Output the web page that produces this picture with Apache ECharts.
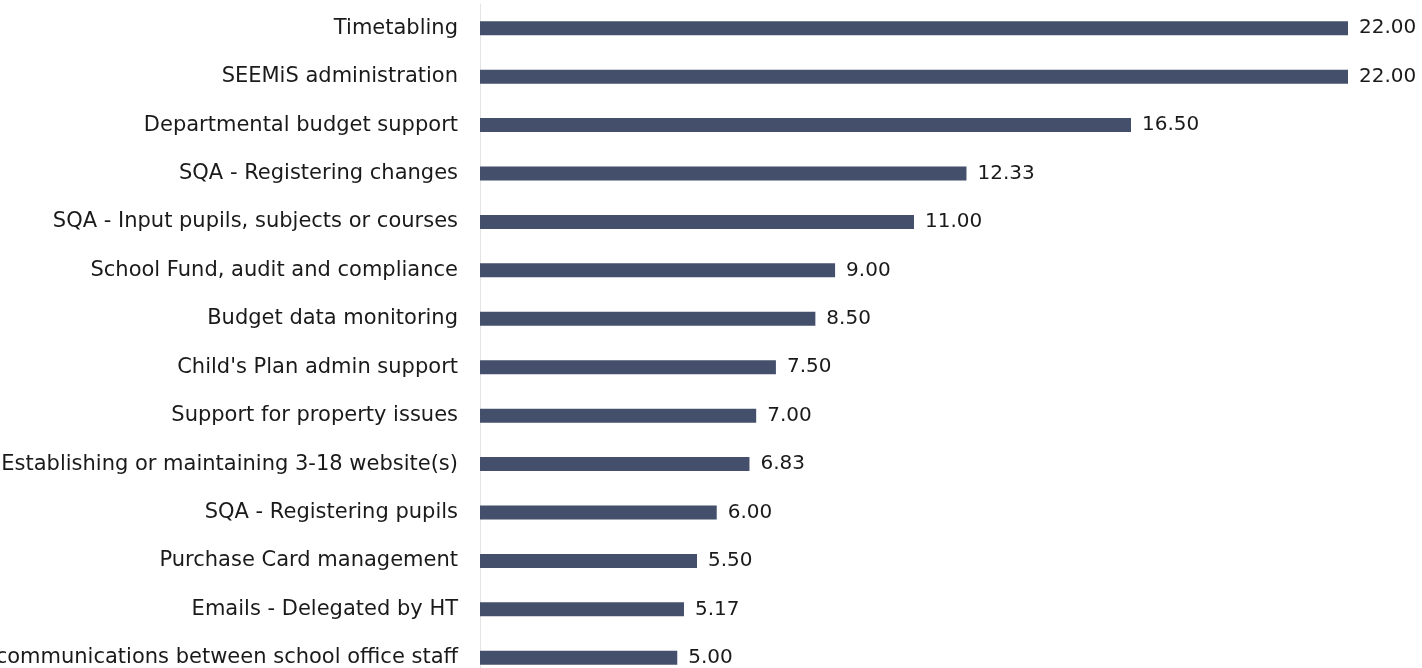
<!DOCTYPE html>
<html><head><meta charset="utf-8">
<script src="https://cdn.jsdelivr.net/npm/echarts@6/dist/echarts.min.js"></script>
<style>html,body{margin:0;padding:0;background:#fff}#c{width:1422px;height:668px}</style>
</head><body><div id="c"></div>
<script>
const categories = [
  "Timetabling",
  "SEEMiS administration",
  "Departmental budget support",
  "SQA - Registering changes",
  "SQA - Input pupils, subjects or courses",
  "School Fund, audit and compliance",
  "Budget data monitoring",
  "Child's Plan admin support",
  "Support for property issues",
  "Establishing or maintaining 3-18 website(s)",
  "SQA - Registering pupils",
  "Purchase Card management",
  "Emails - Delegated by HT",
  "communications between school office staff"
];
const values = [22.00, 22.00, 16.50, 12.33, 11.00, 9.00, 8.50, 7.50, 7.00, 6.83, 6.00, 5.50, 5.17, 5.00];

const chart = echarts.init(document.getElementById('c'), null, {renderer: 'canvas'});
const font = "'DejaVu Sans', sans-serif";
chart.setOption({
  animation: false,
  grid: {left: 480, width: 868, top: 4, height: 678, containLabel: false, outerBoundsMode: 'none'},
  xAxis: {
    type: 'value', min: 0, max: 22,
    show: false
  },
  yAxis: {
    type: 'category', inverse: true, data: categories,
    axisLine: {show: true, lineStyle: {color: '#e4e4e4', width: 1}},
    axisTick: {show: false},
    offset: 2,
    axisLabel: {color: '#1a1a1a', fontFamily: font, fontSize: 21, margin: 20}
  },
  series: [{
    type: 'bar', data: values, barWidth: 14,
    itemStyle: {color: '#434f6b'},
    label: {show: true, position: 'right', distance: 11, color: '#1a1a1a',
      fontFamily: font, fontSize: 20,
      formatter: p => p.value.toFixed(2)}
  }]
});
</script></body></html>
